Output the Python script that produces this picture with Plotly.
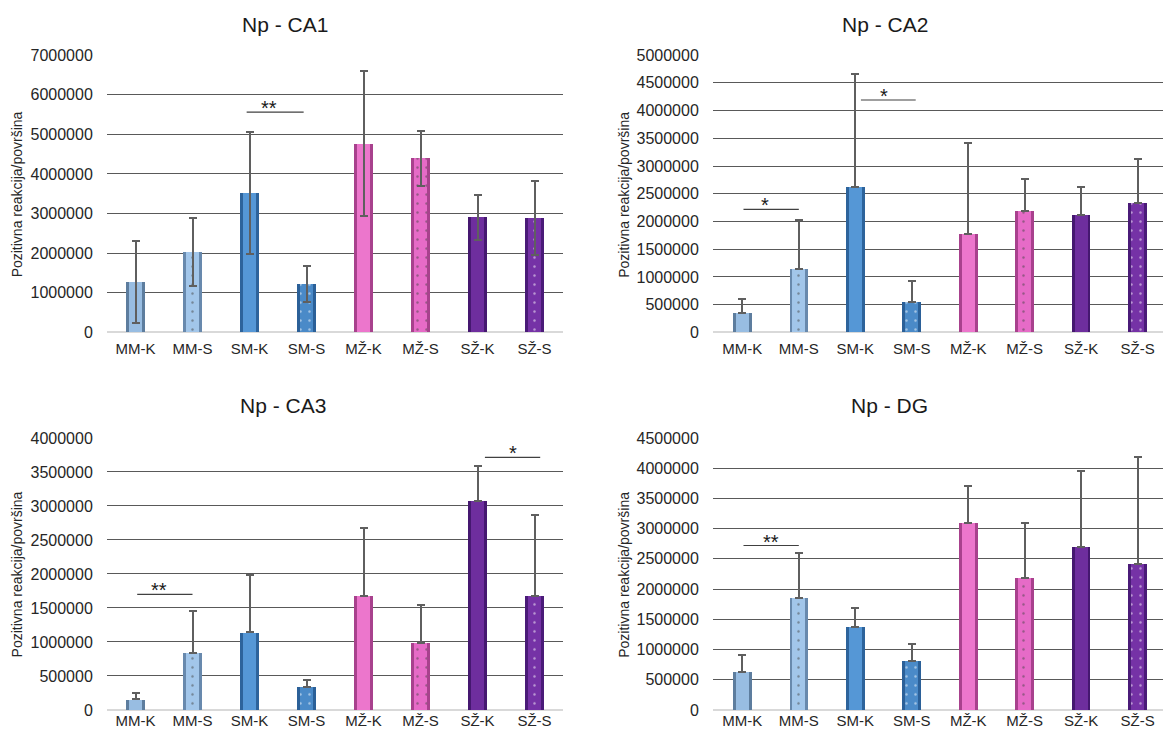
import plotly.graph_objects as go

# ---------------- data ----------------
categories = ["MM-K", "MM-S", "SM-K", "SM-S", "MŽ-K", "MŽ-S", "SŽ-K", "SŽ-S"]

ca1_values = [1270000, 2030000, 3520000, 1230000, 4760000, 4390000, 2900000, 2880000]
ca1_errors = [1030000, 870000, 1530000, 450000, 1830000, 700000, 560000, 930000]

ca2_values = [345000, 1150000, 2620000, 540000, 1780000, 2190000, 2110000, 2340000]
ca2_errors = [250000, 870000, 2030000, 380000, 1640000, 570000, 510000, 780000]

ca3_values = [155000, 840000, 1140000, 335000, 1670000, 990000, 3070000, 1670000]
ca3_errors = [100000, 610000, 850000, 100000, 1010000, 550000, 510000, 1200000]

dg_values = [635000, 1850000, 1380000, 810000, 3090000, 2180000, 2700000, 2420000]
dg_errors = [275000, 740000, 310000, 275000, 620000, 920000, 1260000, 1770000]

panel_titles = ["Np - CA1", "Np - CA2", "Np - CA3", "Np - DG"]
y_title = "Pozitivna reakcija/površina"
y_max = [7000000, 5000000, 4000000, 4500000]
y_step = [1000000, 500000, 500000, 500000]

# significance brackets
sig_panel = [0, 1, 1, 2, 2, 3]
sig_x0 = [1.95, 0.02, 2.1, 0.03, 6.13, 0.02]
sig_x1 = [2.95, 1.0, 3.07, 1.0, 7.1, 1.0]
sig_level = [5560000, 2220000, 4190000, 1700000, 3715000, 2720000]
sig_label = ["**", "*", "*", "**", "*", "**"]
sig_star_x = [2.35, 0.4, 2.5, 0.42, 6.62, 0.5]

# ---------------- style ----------------
edge_colors = ["#5d7d9e", "#6889ad", "#2d639b", "#2b6098", "#a8418d", "#a8418d", "#451870", "#4a1b78"]
fill_colors = ["#98bde2", "#a2c6ea", "#5597d6", "#4a8ac8", "#ec76cc", "#e66bc7", "#6e2e9e", "#7532a6"]
pattern_shapes = ["", ".", "", ".", "", ".", "", "."]
symmetric_err = [True, False, False, False]

FONT = "Liberation Sans, Arial, sans-serif"
W, H = 1163, 738
# observed on the page: figure appears 8px lower and slightly squeezed vertically
Y_OFF, Y_SCALE = 8.0, 0.9756


def px(xp):
    return xp / W


def py(yp):
    spec = (yp - Y_OFF) / Y_SCALE
    return 1 - spec / H


x_domains = [[px(107), px(563)], [px(713), 1.0], [px(107), px(563)], [px(713), 1.0]]
y_domains = [[py(332), py(55)], [py(332), py(55)], [py(709), py(437.3)], [py(709), py(437.3)]]
x_ranges = [[-0.5, 7.5], [-0.52, 7.45], [-0.5, 7.5], [-0.52, 7.45]]
x_ticklen = [3, 3, 0, 0]
title_pos = [(285, 24), (885, 24), (283, 405), (889, 405)]
ytitle_pos = [(16.6, 194.5), (624, 194.5), (16.6, 574), (624, 574)]

all_values = [ca1_values, ca2_values, ca3_values, dg_values]
all_errors = [ca1_errors, ca2_errors, ca3_errors, dg_errors]

fig = go.Figure()
annotations = []
shapes = []

for i in range(4):
    xa = "x" if i == 0 else f"x{i+1}"
    ya = "y" if i == 0 else f"y{i+1}"
    vals = all_values[i]
    errs = all_errors[i]
    fig.add_trace(go.Bar(
        x=categories, y=vals, width=0.33, xaxis=xa, yaxis=ya,
        marker=dict(color=edge_colors, line=dict(width=0)),
        showlegend=False, hoverinfo="skip"))
    if symmetric_err[i]:
        ey = dict(type="data", array=errs, symmetric=True,
                  color="#5f5f5f", thickness=2, width=4)
    else:
        ey = dict(type="data", array=errs, arrayminus=[0] * len(errs), symmetric=False,
                  color="#5f5f5f", thickness=2, width=4)
    fig.add_trace(go.Bar(
        x=categories, y=vals, width=0.23, xaxis=xa, yaxis=ya,
        marker=dict(color=fill_colors, line=dict(width=0),
                    pattern=dict(shape=pattern_shapes, fgcolor="rgba(255,255,255,0.9)",
                                 size=9, solidity=0.06)),
        error_y=ey, showlegend=False))

    axis_num = "" if i == 0 else str(i + 1)
    fig.layout["xaxis" + axis_num] = dict(
        domain=x_domains[i], anchor=ya, type="category", range=x_ranges[i],
        showgrid=False, showline=False, zeroline=False,
        ticks="outside" if x_ticklen[i] else "", ticklen=max(x_ticklen[i], 1),
        tickcolor="rgba(0,0,0,0)",
        tickfont=dict(family=FONT, size=15, color="#262626"), fixedrange=True)
    fig.layout["yaxis" + axis_num] = dict(
        domain=y_domains[i], anchor=xa, range=[0, y_max[i]], dtick=y_step[i], tick0=0,
        tickformat="d", showgrid=True, gridcolor="#595959", gridwidth=1,
        zeroline=True, zerolinecolor="#d9d9d9", zerolinewidth=2, showline=False,
        ticks="outside", ticklen=10, tickcolor="rgba(0,0,0,0)",
        tickfont=dict(family=FONT, size=16, color="#262626"), fixedrange=True)

    tx, ty = title_pos[i]
    annotations.append(dict(text=panel_titles[i], x=px(tx), y=py(ty), xref="paper", yref="paper",
                            showarrow=False, xanchor="center", yanchor="middle",
                            font=dict(family=FONT, size=21, color="#1a1a1a")))
    yx, yy = ytitle_pos[i]
    annotations.append(dict(text=y_title, x=px(yx), y=py(yy), xref="paper", yref="paper",
                            showarrow=False, xanchor="center", yanchor="middle", textangle=-90,
                            font=dict(family=FONT, size=14, color="#262626")))

for k in range(len(sig_panel)):
    p = sig_panel[k]
    xr = "x" if p == 0 else f"x{p+1}"
    yr = "y" if p == 0 else f"y{p+1}"
    shapes.append(dict(type="line", xref=xr, yref=yr, x0=sig_x0[k], x1=sig_x1[k],
                       y0=sig_level[k], y1=sig_level[k], line=dict(color="#404040", width=1.2)))
    annotations.append(dict(text=sig_label[k], x=sig_star_x[k], y=sig_level[k], xref=xr, yref=yr,
                            showarrow=False, xanchor="center", yanchor="bottom", yshift=-9,
                            font=dict(family=FONT, size=20, color="#1a1a1a")))

fig.update_layout(
    width=W, height=H, autosize=False,
    margin=dict(l=0, r=0, t=0, b=0),
    paper_bgcolor="white", plot_bgcolor="white",
    barmode="overlay", bargap=0,
    annotations=annotations, shapes=shapes,
    font=dict(family=FONT),
)

page_fix = (
    "var gd=document.getElementsByClassName('plotly-graph-div')[0];"
    "gd.style.position='fixed';gd.style.left='0px';gd.style.top='0px';"
    "document.body.style.margin='0';document.body.style.overflow='hidden';"
    "document.documentElement.style.overflow='hidden';"
)

fig.write_html("out.html", config={"displayModeBar": False}, post_script=page_fix)
